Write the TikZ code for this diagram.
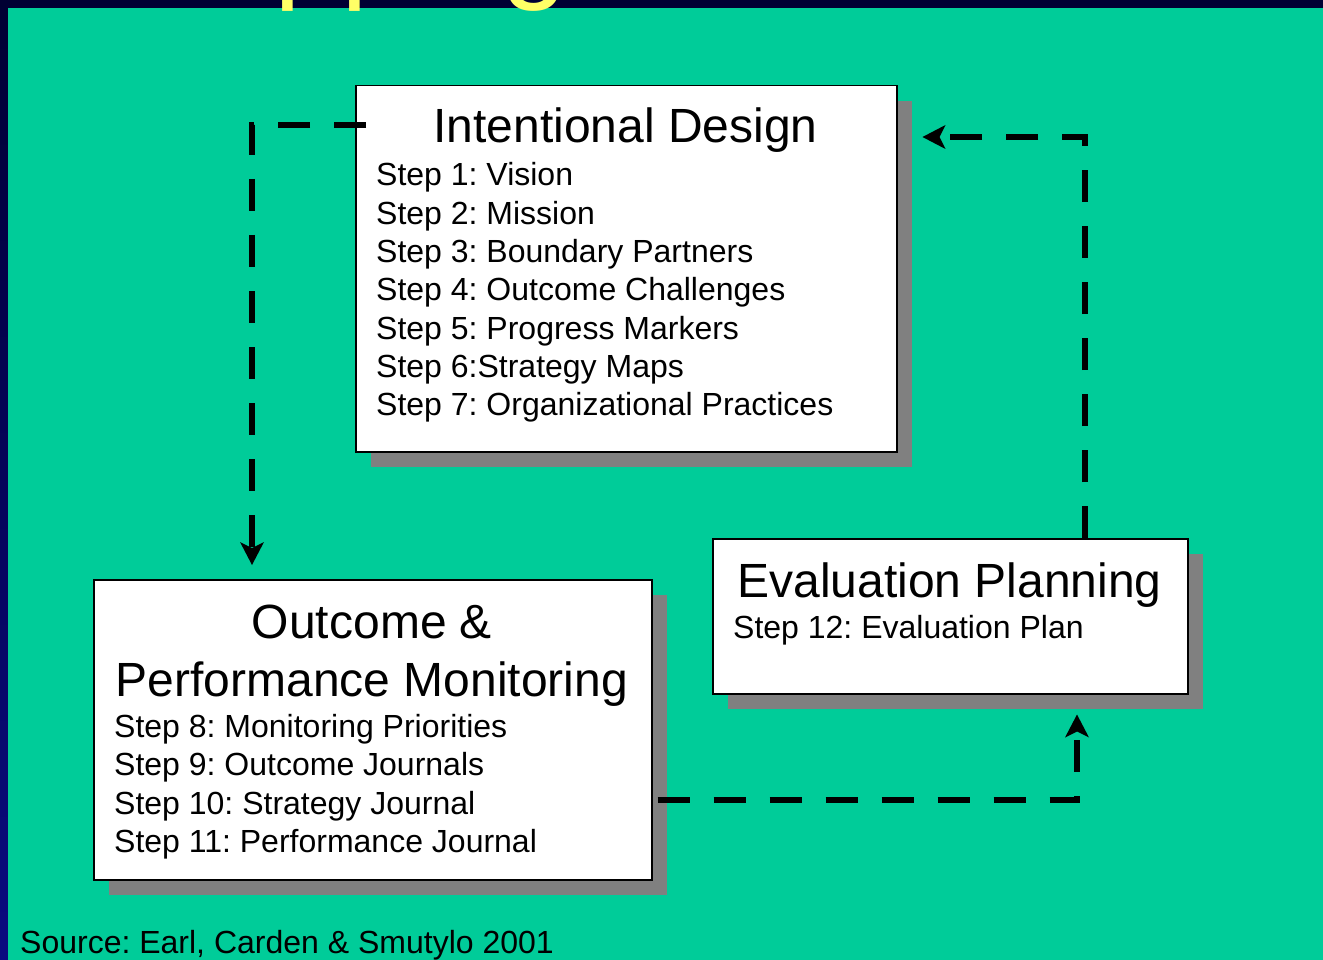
\documentclass[tikz,border=0pt]{standalone}
\usepackage{fontspec}
\setmainfont{Liberation Sans}
\usetikzlibrary{arrows.meta,calc,shadows}
\definecolor{bggreen}{HTML}{00CC99}
\definecolor{navytop}{HTML}{000033}
\definecolor{navybot}{HTML}{0A0A80}
\definecolor{shadowgray}{HTML}{808080}
\definecolor{titleyellow}{HTML}{FFFF66}
\frenchspacing
\tikzset{
  box/.style={draw=black, line width=1.5pt, fill=white, inner sep=0pt, anchor=north west,
    drop shadow={shadow xshift=15pt, shadow yshift=-15pt, opacity=1, fill=shadowgray}},
  ttl/.style={font=\fontsize{48}{58}\selectfont, anchor=base, inner sep=0pt},
  stp/.style={font=\fontsize{32}{38}\selectfont, anchor=base west, inner sep=0pt},
  flow/.style={line width=6pt, dash pattern=on 32pt off 24pt,
    -{Stealth[length=23pt,width=24pt,inset=6pt,line width=0pt]}}
}
\begin{document}
\begin{tikzpicture}[x=1pt,y=-1pt]
\useasboundingbox (0,0) rectangle (1323,960);
% background
\shade[top color=navytop, bottom color=navybot] (0,0) rectangle (1323,960);
\fill[bggreen] (8,8) rectangle (1323,960);
% cropped slide title
\begin{scope}
  \clip (0,0) rectangle (1323,960);
  \node[anchor=base west, inner sep=0pt, text=titleyellow, font=\fontsize{120}{144}\selectfont] (title) at (108,-13) {Mapping};
\end{scope}
% boxes
\node[box, minimum width=541pt, minimum height=366pt] (id) at (355,85) {};
\node[box, minimum width=558pt, minimum height=300pt] (om) at (93,579) {};
\node[box, minimum width=475pt, minimum height=155pt] (ev) at (712,538) {};
% Intentional Design
\node[ttl] (idt) at (625.5,143) {Intentional Design};
\node[stp] (s1) at (376,186) {Step 1: Vision};
\node[stp] (s2) at (376,224.3) {Step 2: Mission};
\node[stp] (s3) at (376,262.6) {Step 3: Boundary Partners};
\node[stp] (s4) at (376,300.9) {Step 4: Outcome Challenges};
\node[stp] (s5) at (376,339.2) {Step 5: Progress Markers};
\node[stp] (s6) at (376,377.5) {Step 6:Strategy Maps};
\node[stp] (s7) at (376,415.8) {Step 7: Organizational Practices};
% Outcome & Performance Monitoring
\node[ttl] (omt1) at (372,638) {Outcome \&};
\node[ttl] (omt2) at (372,696) {Performance Monitoring};
\node[stp] (s8) at (114,737.5) {Step 8: Monitoring Priorities};
\node[stp] (s9) at (114,775.8) {Step 9: Outcome Journals};
\node[stp] (s10) at (114,814.1) {Step 10: Strategy Journal};
\node[stp] (s11) at (114,852.4) {Step 11: Performance Journal};
% Evaluation Planning
\node[ttl] (evt) at (949.5,597) {Evaluation Planning};
\node[stp] (s12) at (733,638.5) {Step 12: Evaluation Plan};
% source
\node[stp] (src) at (20,953) {Source: Earl, Carden \& Smutylo 2001};
% connectors
\coordinate (a1s) at ($(id.north west)+(11,40)$);
\coordinate (a1e) at ($(om.north west)+(159,-14)$);
\draw[flow] (a1s) -| (a1e);
\coordinate (a2s) at ($(om.north east)+(5,221)$);
\coordinate (a2e) at ($(ev.south west)+(365,20)$);
\draw[flow] (a2s) -| (a2e);
\coordinate (a3s) at ($(ev.north west)+(373,0)$);
\coordinate (a3e) at ($(id.north east)+(25,52)$);
\draw[flow] (a3s) |- (a3e);
\end{tikzpicture}
\end{document}
